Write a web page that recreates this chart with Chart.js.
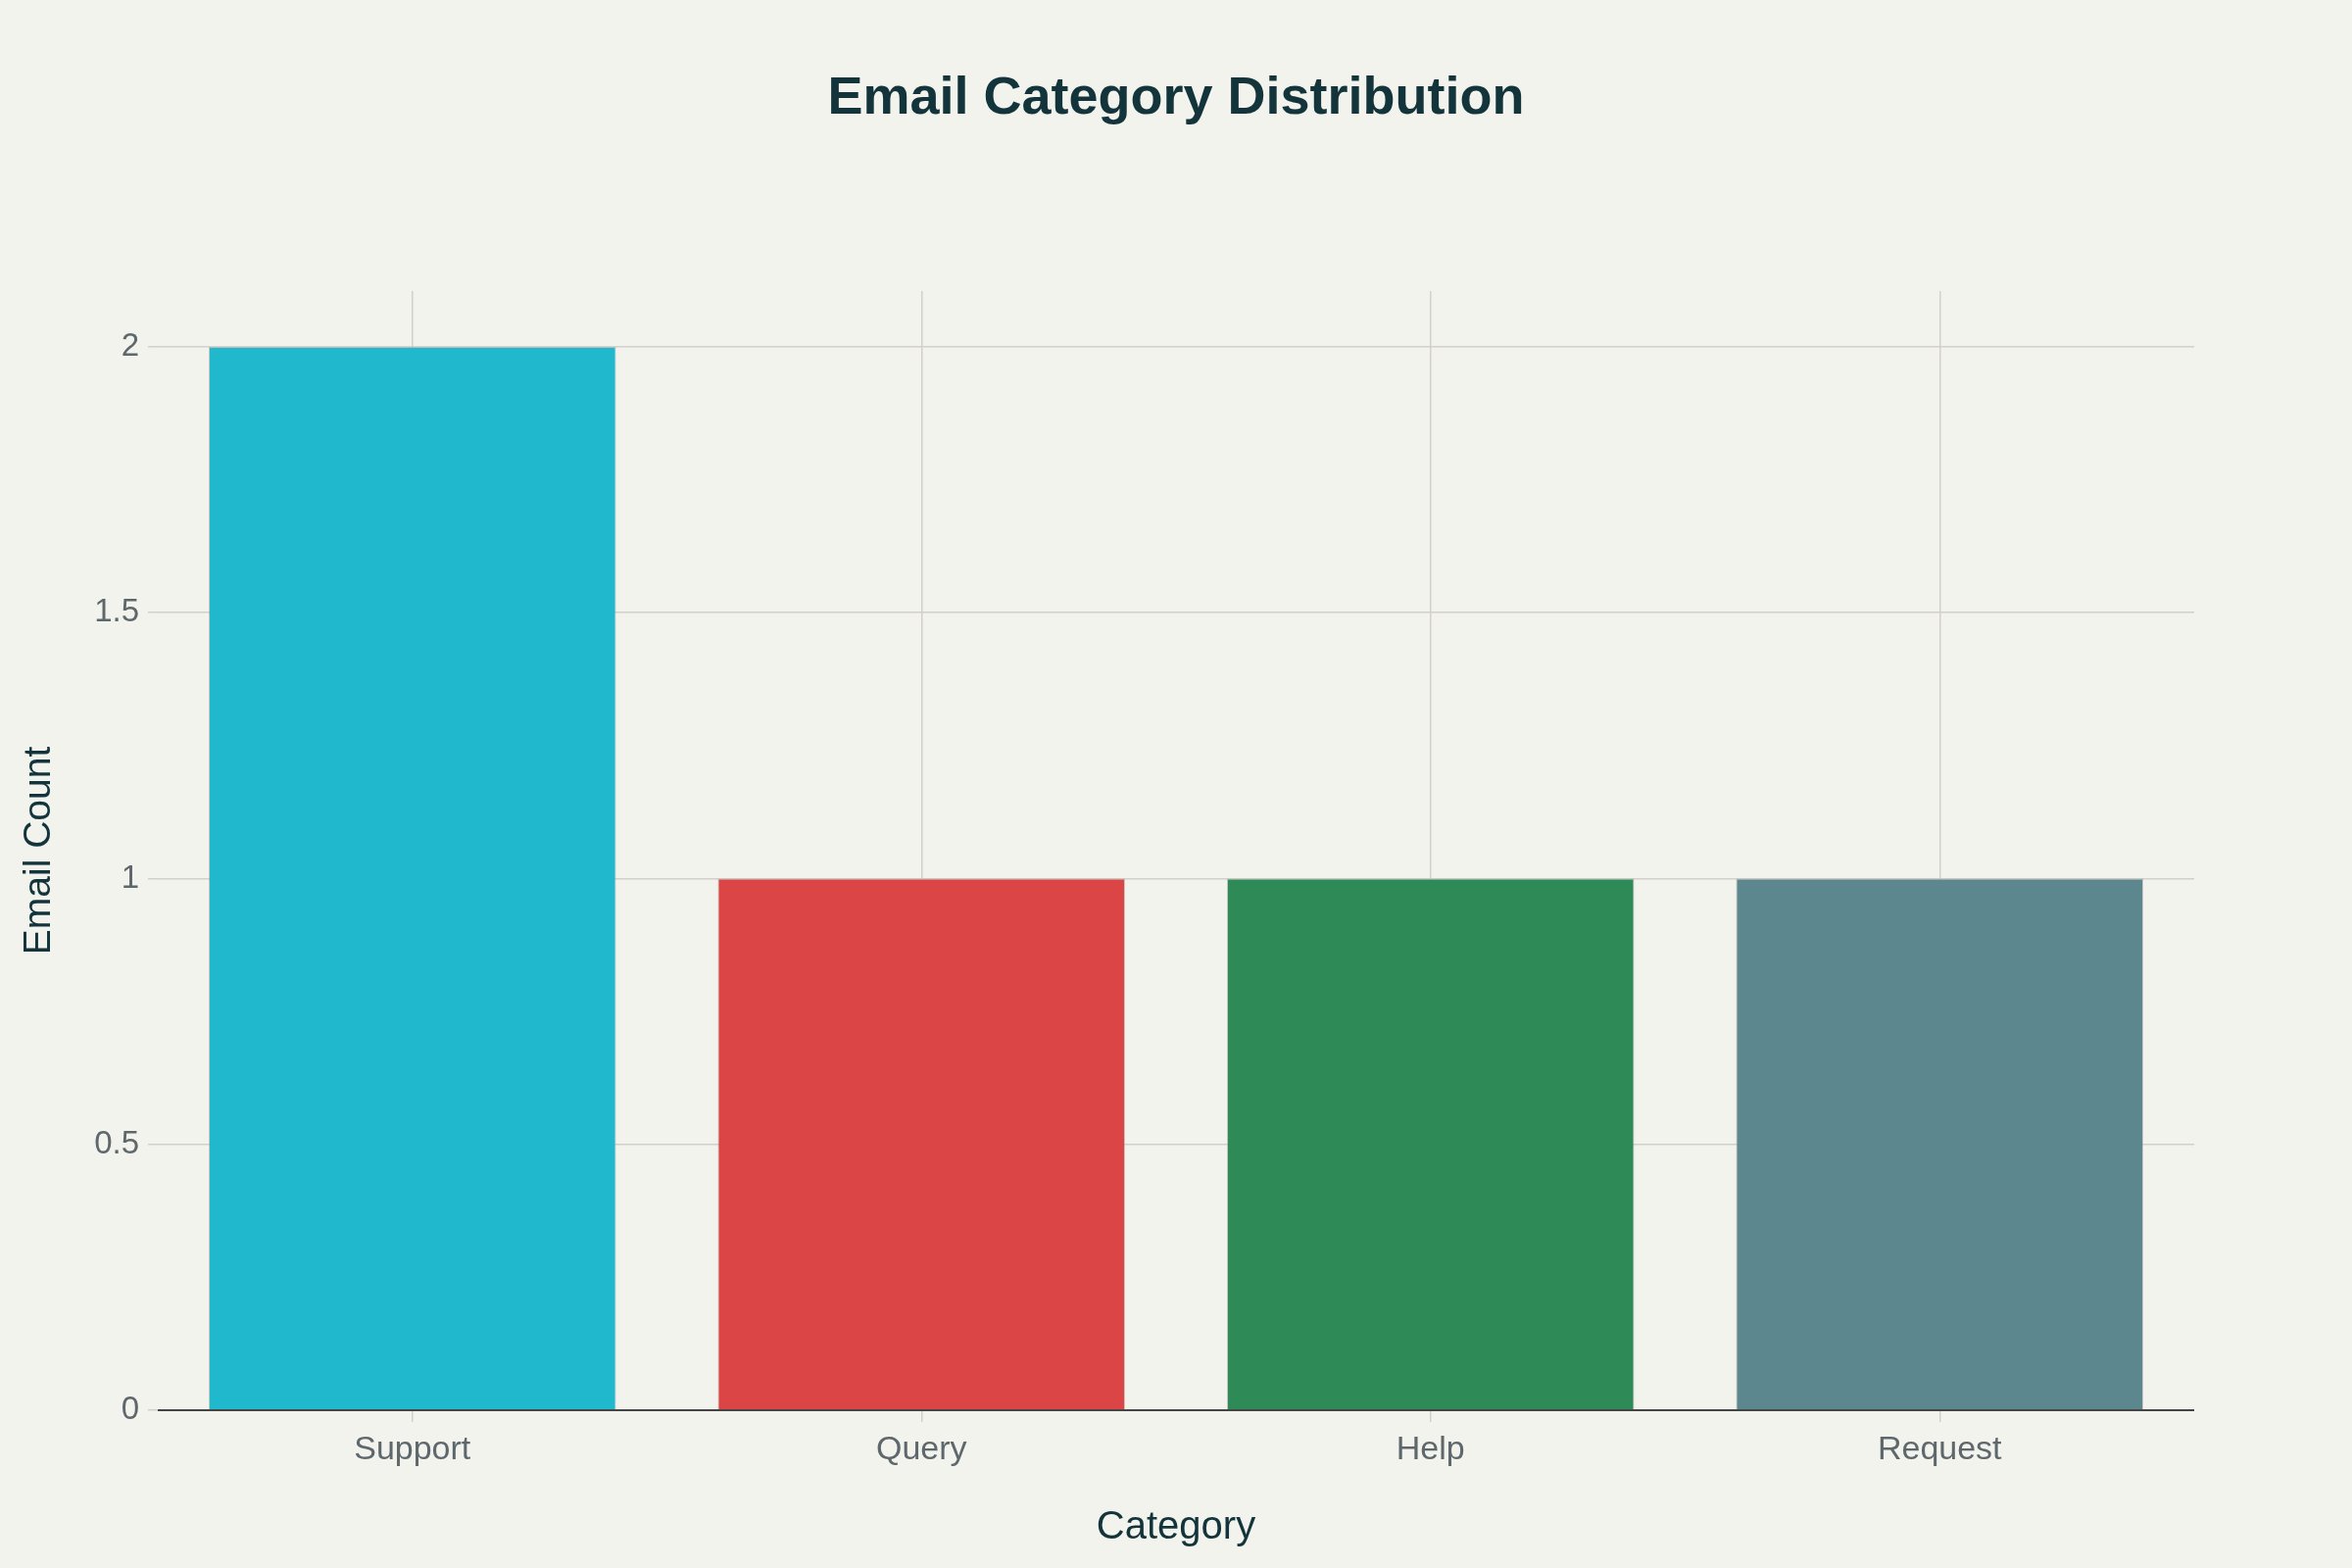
<!DOCTYPE html>
<html>
<head>
<meta charset="utf-8">
<title>Email Category Distribution</title>
<script src="https://cdn.jsdelivr.net/npm/chart.js@4"></script>
<style>
    html, body { margin: 0; padding: 0; background: #F3F3EE; }
    #wrap { width: 2400px; height: 1600px; }
</style>
</head>
<body>
<div id="wrap"><canvas id="emailChart" width="2400" height="1600"></canvas></div>
<script>
// data
const categories = ["Support", "Query", "Help", "Request"];
const emailCounts = [2, 1, 1, 1];
const barColors = ["#1FB8CD", "#DB4545", "#2E8B57", "#5D878F"];
const yTickValues = [0, 0.5, 1, 1.5, 2];
const chartTitle = "Email Category Distribution";

const FONT = "'Liberation Sans', Arial, sans-serif";
const GRID = "#D3D0CB";

const bgPlugin = {
    id: "bg",
    beforeDraw(chart) {
        const ctx = chart.ctx;
        ctx.save();
        ctx.fillStyle = "#F3F3EE";
        ctx.fillRect(0, 0, chart.width, chart.height);
        ctx.restore();
    }
};

// title centred on the whole canvas, not on the layout box
const titlePlugin = {
    id: "pageTitle",
    afterDraw(chart) {
        const ctx = chart.ctx;
        ctx.save();
        ctx.fillStyle = "#13343B";
        ctx.font = "bold 54px " + FONT;
        ctx.textAlign = "center";
        ctx.textBaseline = "middle";
        ctx.fillText(chartTitle, chart.width / 2, 101);
        ctx.restore();
    }
};

// redraw the zero line over the bars, like the original
const axisLinePlugin = {
    id: "axisLine",
    afterDatasetsDraw(chart) {
        const { ctx, chartArea, scales } = chart;
        const y0 = scales.y.getPixelForValue(0);
        ctx.save();
        ctx.strokeStyle = "#444444";
        ctx.lineWidth = 2;
        ctx.beginPath();
        ctx.moveTo(chartArea.left, y0);
        ctx.lineTo(chartArea.right, y0);
        ctx.stroke();
        ctx.restore();
    }
};

const ctx = document.getElementById("emailChart").getContext("2d");
new Chart(ctx, {
    type: "bar",
    data: {
        labels: categories,
        datasets: [{
            label: "Email Count",
            data: emailCounts,
            backgroundColor: barColors,
            borderColor: "rgba(120,120,120,0.35)",
            borderWidth: 1,
            barPercentage: 0.8,
            categoryPercentage: 1.0
        }]
    },
    options: {
        responsive: false,
        animation: false,
        layout: { padding: { left: 0, right: 161, top: 297, bottom: 0 } },
        plugins: {
            legend: { display: false },
            tooltip: { enabled: false },
            title: { display: false }
        },
        scales: {
            x: {
                afterFit: (scale) => { scale.height = 161; },
                grid: {
                    offset: false,
                    color: GRID,
                    lineWidth: 1.5,
                    tickColor: GRID,
                    tickLength: 12
                },
                border: { display: false },
                ticks: {
                    color: "#5E676B",
                    font: { family: FONT, size: 34 },
                    padding: 8
                },
                title: {
                    display: true,
                    text: "Category",
                    color: "#13343B",
                    font: { family: FONT, size: 40, lineHeight: 1.2 },
                    padding: { top: 0, bottom: 17 }
                }
            },
            y: {
                min: 0,
                max: 2.105,
                afterFit: (scale) => { scale.width = 161; },
                afterBuildTicks: (scale) => {
                    scale.ticks = yTickValues.map(v => ({ value: v }));
                },
                grid: {
                    color: GRID,
                    lineWidth: 1.5,
                    tickColor: GRID,
                    tickLength: 10
                },
                border: { display: false },
                ticks: {
                    color: "#5E676B",
                    font: { family: FONT, size: 33 },
                    padding: 9,
                    callback: (v) => String(v)
                },
                title: {
                    display: true,
                    text: "Email Count",
                    color: "#13343B",
                    font: { family: FONT, size: 39, lineHeight: 1.2 },
                    padding: { top: 17, bottom: 0 }
                }
            }
        }
    },
    plugins: [bgPlugin, axisLinePlugin, titlePlugin]
});
</script>
</body>
</html>
